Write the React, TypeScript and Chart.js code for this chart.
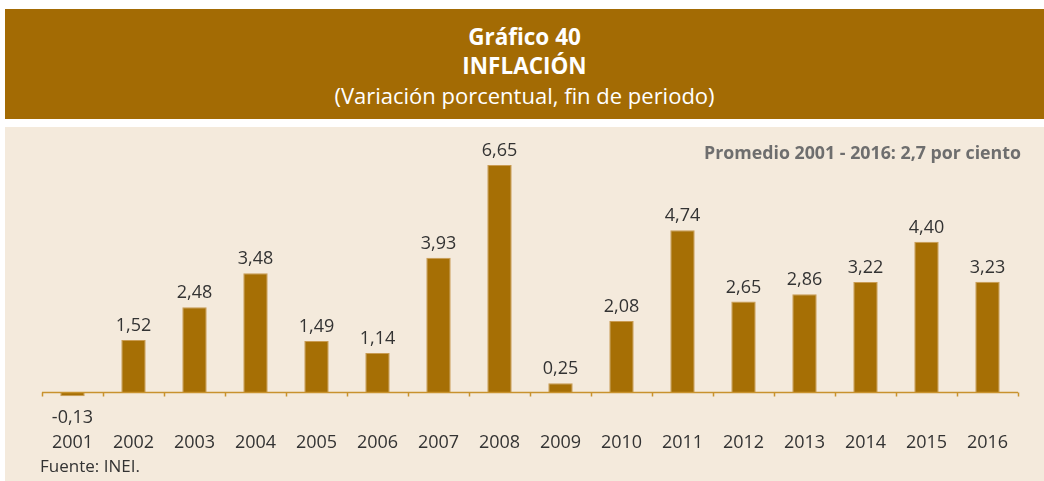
import React, { useEffect, useRef } from "react";
import { Chart, registerables } from "chart.js";

Chart.register(...registerables);

const years = ["2001", "2002", "2003", "2004", "2005", "2006", "2007", "2008", "2009", "2010", "2011", "2012", "2013", "2014", "2015", "2016"];
const inflation = [-0.13, 1.52, 2.48, 3.48, 1.49, 1.14, 3.93, 6.65, 0.25, 2.08, 4.74, 2.65, 2.86, 3.22, 4.4, 3.23];
const titleLines = ["Gráfico 40", "INFLACIÓN", "(Variación porcentual, fin de periodo)"];
const noteText = "Promedio 2001 - 2016: 2,7 por ciento";
const sourceText = "Fuente: INEI.";

const BAR = "#A66F05";
const FONT = "'Open Sans', 'Noto Sans', sans-serif";

const fmt = (v: number) => v.toFixed(2).replace(".", ",");

const labelPlugin = {
  id: "barLabels",
  afterDatasetsDraw(chart: any) {
    const ctx = chart.ctx;
    const meta = chart.getDatasetMeta(0);
    ctx.save();
    ctx.font = `18px ${FONT}`;
    ctx.fillStyle = "#333333";
    ctx.textAlign = "center";
    ctx.textBaseline = "middle";
    meta.data.forEach((bar: any, i: number) => {
      const v = inflation[i];
      const y = v >= 0 ? bar.y - 14 : bar.y + 22;
      ctx.fillText(fmt(v), bar.x, y);
    });
    ctx.restore();
  },
};

const baselinePlugin = {
  id: "baseline",
  afterDatasetsDraw(chart: any) {
    const ctx = chart.ctx;
    const x = chart.scales.x;
    const y0 = Math.round(chart.scales.y.getPixelForValue(0)) + 0.5;
    const n = years.length;
    const step = (x.right - x.left) / n;
    ctx.save();
    ctx.strokeStyle = "#C8922E";
    ctx.lineWidth = 1.5;
    ctx.beginPath();
    ctx.moveTo(x.left, y0);
    ctx.lineTo(x.right, y0);
    for (let i = 0; i <= n; i++) {
      const px = Math.round(x.left + i * step) + 0.5;
      ctx.moveTo(px, y0);
      ctx.lineTo(px, y0 + 4);
    }
    ctx.stroke();
    ctx.restore();
  },
};

export default function App() {
  const ref = useRef<HTMLCanvasElement | null>(null);

  useEffect(() => {
    if (!ref.current) return;
    const chart = new Chart(ref.current, {
      type: "bar",
      data: {
        labels: years,
        datasets: [
          {
            data: inflation,
            backgroundColor: BAR,
            borderColor: "#C99B52",
            borderWidth: 1,
            barPercentage: 0.4,
            categoryPercentage: 1,
          },
        ],
      },
      options: {
        animation: false,
        responsive: false,
        maintainAspectRatio: false,
        layout: { padding: { top: 9, left: 42, right: 26, bottom: 0 } },
        plugins: { legend: { display: false }, tooltip: { enabled: false } },
        scales: {
          x: {
            grid: { display: false },
            border: { display: false },
            ticks: {
              color: "#333333",
              font: { family: FONT, size: 18 },
              padding: -2,
              maxRotation: 0,
              autoSkip: false,
            },
            afterFit(s: any) {
              s.height = 55;
            },
          },
          y: { display: false, min: -1, max: 7.5 },
        },
      },
      plugins: [baselinePlugin, labelPlugin],
    } as any);
    return () => chart.destroy();
  }, []);

  return (
    <div style={{ position: "absolute", left: 0, top: 0, width: 1044, height: 481, background: "#ffffff", fontFamily: FONT, overflow: "hidden" }}>
      <div style={{ position: "absolute", left: 5, top: 9, width: 1039, height: 110, background: "#A36B04", color: "#ffffff" }}>
        <div style={{ position: "absolute", left: 0, right: 0, top: 14, textAlign: "center", fontWeight: 700, fontSize: 22.5, lineHeight: "28px" }}>{titleLines[0]}</div>
        <div style={{ position: "absolute", left: 0, right: 0, top: 43, textAlign: "center", fontWeight: 700, fontSize: 22.5, lineHeight: "28px" }}>{titleLines[1]}</div>
        <div style={{ position: "absolute", left: 0, right: 0, top: 72, textAlign: "center", fontWeight: 400, fontSize: 22, lineHeight: "28px" }}>{titleLines[2]}</div>
      </div>
      <div style={{ position: "absolute", left: 5, top: 127, width: 1039, height: 354, background: "#F4EADC" }} />
      <canvas ref={ref} width={1044} height={354} style={{ position: "absolute", left: 0, top: 127, width: 1044, height: 354, display: "block" }} />
      <div style={{ position: "absolute", right: 23, top: 140, fontWeight: 700, fontSize: 17.8, color: "#6E6E6E", lineHeight: "24px", whiteSpace: "nowrap" }}>{noteText}</div>
      <div style={{ position: "absolute", left: 40, top: 455, fontSize: 17, color: "#333333", lineHeight: "22px", whiteSpace: "nowrap" }}>{sourceText}</div>
    </div>
  );
}
